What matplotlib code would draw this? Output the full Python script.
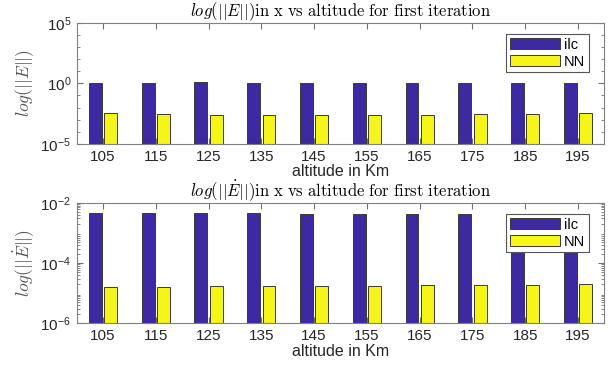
import matplotlib
matplotlib.use("Agg")
import matplotlib.pyplot as plt
import numpy as np
from matplotlib.ticker import LogLocator, NullFormatter, FixedLocator

plt.rcParams['mathtext.fontset'] = 'cm'
plt.rcParams['font.family'] = ['Liberation Sans', 'DejaVu Sans']

altitudes = [105, 115, 125, 135, 145, 155, 165, 175, 185, 195]
ilc_E = [1.15, 1.15, 1.2, 1.1, 1.1, 1.1, 1.1, 1.1, 1.1, 1.1]
nn_E = [0.0038, 0.0030, 0.0026, 0.0023, 0.0023, 0.0023, 0.0023, 0.0028, 0.0030, 0.0034]
ilc_Ed = [0.00445, 0.00445, 0.00445, 0.00445, 0.0043, 0.0043, 0.0043, 0.0043, 0.0043, 0.0043]
nn_Ed = [1.48e-5, 1.56e-5, 1.6e-5, 1.64e-5, 1.68e-5, 1.68e-5, 1.72e-5, 1.77e-5, 1.8e-5, 1.85e-5]

ilc_color = '#3d2aa3'
nn_color = '#f5f51a'
edge = '#3a3a3a'

fig = plt.figure(figsize=(6.13, 3.67), dpi=100)
W, H = 613, 367
L, R = 76.7, 604.3
ax1 = fig.add_axes([L / W, 1 - 144 / H, (R - L) / W, (144 - 22.7) / H])
ax2 = fig.add_axes([L / W, 1 - 323.3 / H, (R - L) / W, (323.3 - 202.7) / H])

x = np.array(altitudes, dtype=float)
bw = 2.45
off = 1.45

def setup(ax, ilc, nn, ylim, majors, minor_subs, title, ylabel):
    ax.bar(x - off, ilc, width=bw, color=ilc_color, edgecolor=edge, linewidth=0.7,
           label='ilc', bottom=ylim[0])
    ax.bar(x + off, nn, width=bw, color=nn_color, edgecolor=edge, linewidth=0.7,
           label='NN', bottom=ylim[0])
    ax.set_yscale('log')
    ax.set_ylim(*ylim)
    ax.set_xlim(100, 200)
    ax.set_xticks(altitudes)
    ax.set_xticklabels([str(a) for a in altitudes])
    ax.set_yticks(majors)
    ax.yaxis.set_minor_locator(LogLocator(base=10, subs=minor_subs, numticks=100))
    ax.yaxis.set_minor_formatter(NullFormatter())
    ax.tick_params(direction='in', which='both', top=True, right=True,
                   labelsize=11, colors='#707070', labelcolor='#262626', pad=4)
    ax.tick_params(which='major', length=4)
    ax.tick_params(which='minor', length=2.5)
    for s in ax.spines.values():
        s.set_color('#808080')
        s.set_linewidth(0.8)
    ax.set_title(title, fontsize=12, pad=1.5)
    ax.set_ylabel(ylabel, fontsize=12.5, color='#555555', labelpad=3)
    ax.set_xlabel('altitude in Km', fontsize=11.5, color='#262626', labelpad=0.5)
    leg = ax.legend(loc='upper right', bbox_to_anchor=(0.971, 0.905), fontsize=10.5,
                    handlelength=3.4, handleheight=0.75, handletextpad=0.3,
                    borderpad=0.25, labelspacing=0.2, fancybox=False,
                    framealpha=1, borderaxespad=0)
    leg.get_frame().set_edgecolor('#555555')
    leg.get_frame().set_linewidth(0.8)

setup(ax1, ilc_E, nn_E, (1e-5, 1e5), [1e-5, 1e0, 1e5], [1.0],
      r'$log(||E||)\mathrm{in\ x\ vs\ altitude\ for\ first\ iteration}$',
      r'$log(||E||)$')
ax1.yaxis.set_minor_locator(FixedLocator([10.0 ** k for k in range(-5, 6) if k % 5 != 0]))
setup(ax2, ilc_Ed, nn_Ed, (1e-6, 1e-2), [1e-6, 1e-4, 1e-2], np.arange(2, 10),
      r'$log(||\dot{E}||)\mathrm{in\ x\ vs\ altitude\ for\ first\ iteration}$',
      r'$log(||\dot{E}||)$')

fig.savefig('out.png', dpi=100)
